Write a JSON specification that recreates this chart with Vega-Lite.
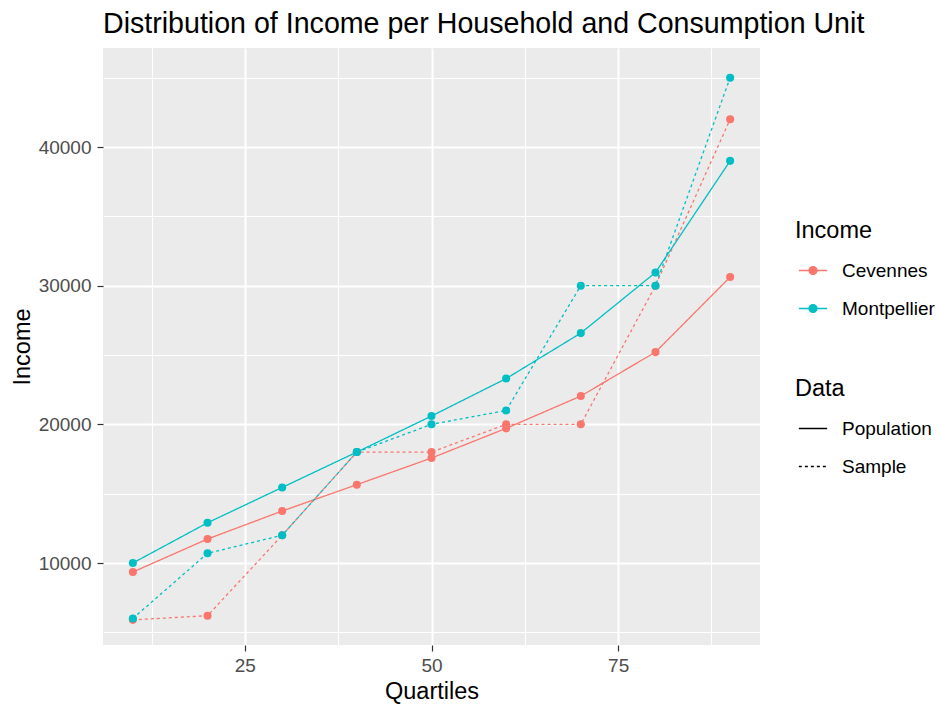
{
  "$schema": "https://vega.github.io/schema/vega-lite/v6.json",
  "width": 657,
  "height": 597,
  "autosize": {"type": "none"},
  "padding": {"left": 103, "top": 48, "right": 180, "bottom": 62},
  "background": "white",
  "title": {
    "text": "Distribution of Income per Household and Consumption Unit",
    "anchor": "start",
    "frame": "group",
    "font": "Liberation Sans",
    "fontSize": 28.6,
    "fontWeight": "normal",
    "color": "black",
    "offset": 9
  },
  "config": {
    "view": {"fill": "#EBEBEB", "stroke": null},
    "font": "Liberation Sans"
  },
  "data": {
    "values": [
      {"q": 10, "income": 9350, "region": "Cevennes", "data": "Population"},
      {"q": 20, "income": 11730, "region": "Cevennes", "data": "Population"},
      {"q": 30, "income": 13750, "region": "Cevennes", "data": "Population"},
      {"q": 40, "income": 15650, "region": "Cevennes", "data": "Population"},
      {"q": 50, "income": 17570, "region": "Cevennes", "data": "Population"},
      {"q": 60, "income": 19710, "region": "Cevennes", "data": "Population"},
      {"q": 70, "income": 22040, "region": "Cevennes", "data": "Population"},
      {"q": 80, "income": 25210, "region": "Cevennes", "data": "Population"},
      {"q": 90, "income": 30620, "region": "Cevennes", "data": "Population"},
      {"q": 10, "income": 5900, "region": "Cevennes", "data": "Sample"},
      {"q": 20, "income": 6200, "region": "Cevennes", "data": "Sample"},
      {"q": 30, "income": 12000, "region": "Cevennes", "data": "Sample"},
      {"q": 40, "income": 18000, "region": "Cevennes", "data": "Sample"},
      {"q": 50, "income": 18000, "region": "Cevennes", "data": "Sample"},
      {"q": 60, "income": 20000, "region": "Cevennes", "data": "Sample"},
      {"q": 70, "income": 20000, "region": "Cevennes", "data": "Sample"},
      {"q": 80, "income": 30000, "region": "Cevennes", "data": "Sample"},
      {"q": 90, "income": 42000, "region": "Cevennes", "data": "Sample"},
      {"q": 10, "income": 10000, "region": "Montpellier", "data": "Population"},
      {"q": 20, "income": 12900, "region": "Montpellier", "data": "Population"},
      {"q": 30, "income": 15450, "region": "Montpellier", "data": "Population"},
      {"q": 40, "income": 18000, "region": "Montpellier", "data": "Population"},
      {"q": 50, "income": 20600, "region": "Montpellier", "data": "Population"},
      {"q": 60, "income": 23300, "region": "Montpellier", "data": "Population"},
      {"q": 70, "income": 26580, "region": "Montpellier", "data": "Population"},
      {"q": 80, "income": 30950, "region": "Montpellier", "data": "Population"},
      {"q": 90, "income": 39000, "region": "Montpellier", "data": "Population"},
      {"q": 10, "income": 6000, "region": "Montpellier", "data": "Sample"},
      {"q": 20, "income": 10700, "region": "Montpellier", "data": "Sample"},
      {"q": 30, "income": 12000, "region": "Montpellier", "data": "Sample"},
      {"q": 40, "income": 18000, "region": "Montpellier", "data": "Sample"},
      {"q": 50, "income": 20000, "region": "Montpellier", "data": "Sample"},
      {"q": 60, "income": 21000, "region": "Montpellier", "data": "Sample"},
      {"q": 70, "income": 30000, "region": "Montpellier", "data": "Sample"},
      {"q": 80, "income": 30000, "region": "Montpellier", "data": "Sample"},
      {"q": 90, "income": 45000, "region": "Montpellier", "data": "Sample"}
    ]
  },
  "encoding": {
    "x": {
      "field": "q", "type": "quantitative",
      "scale": {"domain": [6, 94], "nice": false, "zero": false},
      "axis": {
        "title": "Quartiles",
        "values": [12.5, 25, 37.5, 50, 62.5, 75, 87.5],
        "labelExpr": "datum.value % 25 === 0 ? datum.label : ''",
        "grid": true,
        "gridColor": "white",
        "gridWidth": {"condition": {"test": "datum.value % 25 === 0", "value": 2}, "value": 1.1},
        "tickOpacity": {"condition": {"test": "datum.value % 25 === 0", "value": 1}, "value": 0},
        "domain": false,
        "tickColor": "#333333",
        "tickSize": 6,
        "tickWidth": 1.2,
        "labelFontSize": 19,
        "labelColor": "#4D4D4D",
        "labelPadding": 5,
        "titleFontSize": 23.5,
        "titleFontWeight": "normal",
        "titleColor": "black",
        "titlePadding": 4
      }
    },
    "y": {
      "field": "income", "type": "quantitative",
      "scale": {"domain": [4087, 47140], "nice": false, "zero": false},
      "axis": {
        "title": "Income",
        "values": [5000, 10000, 15000, 20000, 25000, 30000, 35000, 40000, 45000],
        "labelExpr": "datum.value % 10000 === 0 ? format(datum.value, 'd') : ''",
        "grid": true,
        "gridColor": "white",
        "gridWidth": {"condition": {"test": "datum.value % 10000 === 0", "value": 2}, "value": 1.1},
        "tickOpacity": {"condition": {"test": "datum.value % 10000 === 0", "value": 1}, "value": 0},
        "domain": false,
        "tickColor": "#333333",
        "tickSize": 6,
        "tickWidth": 1.2,
        "labelFontSize": 19,
        "labelColor": "#4D4D4D",
        "labelPadding": 6,
        "titleFontSize": 23.5,
        "titleFontWeight": "normal",
        "titleColor": "black",
        "titlePadding": 4
      }
    },
    "color": {
      "field": "region", "type": "nominal",
      "scale": {"domain": ["Cevennes", "Montpellier"], "range": ["#F8766D", "#00BFC4"]},
      "legend": {
        "title": "Income",
        "orient": "none",
        "legendX": 692,
        "legendY": 171,
        "titleFontSize": 23.5,
        "titleFontWeight": "normal",
        "titleColor": "black",
        "titlePadding": 13,
        "labelFontSize": 19,
        "labelColor": "black",
        "labelOffset": 14,
        "symbolOffset": 3,
        "symbolType": "M-1,0H1M-0.28,0a0.28,0.28 0 1,0 0.56,0a0.28,0.28 0 1,0 -0.56,0",
        "symbolSize": 800,
        "symbolStrokeWidth": 1.3,
        "rowPadding": 13
      }
    }
  },
  "layer": [
    {
      "mark": {"type": "line", "strokeWidth": 1.3},
      "encoding": {
        "strokeDash": {
          "field": "data", "type": "nominal",
          "scale": {"domain": ["Population", "Sample"], "range": [[1, 0], [3, 3]]},
          "legend": {
            "title": "Data",
            "orient": "none",
            "legendX": 692,
            "legendY": 329,
            "titleFontSize": 23.5,
            "titleFontWeight": "normal",
            "titleColor": "black",
            "titlePadding": 13,
            "labelFontSize": 19,
            "labelColor": "black",
            "labelOffset": 14,
            "symbolOffset": 3,
            "symbolType": "stroke",
            "symbolStrokeColor": "black",
            "symbolSize": 800,
            "symbolStrokeWidth": 1.5,
            "rowPadding": 13
          }
        }
      }
    },
    {
      "mark": {"type": "point", "filled": true, "opacity": 1, "size": 65}
    }
  ]
}
